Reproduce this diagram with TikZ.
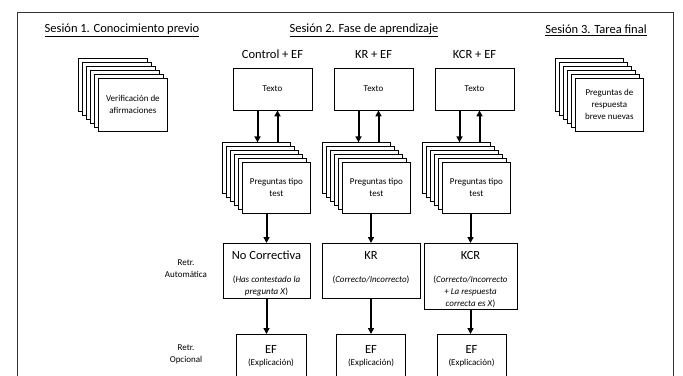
\documentclass[tikz,border=0pt]{standalone}
\usepackage{fontspec}
\setmainfont{Carlito}
\usetikzlibrary{arrows.meta,positioning,calc}

\newcommand{\grande}{\fontsize{12.5}{15}\selectfont}
\newcommand{\chica}{\fontsize{9}{12}\selectfont}

\begin{document}
\begin{tikzpicture}[x=1pt,y=-1pt,>={Triangle[length=6pt,width=6pt]},
  caja/.style={draw,line width=.75pt,fill=white,inner sep=0pt,align=center,font=\chica},
  capa/.style={draw,line width=.75pt,fill=white},
  flecha/.style={->,line width=2pt},
  txt/.style={inner sep=0pt,align=center,font=\chica},
  titulo/.style={inner sep=0pt,font=\grande}]
\useasboundingbox (0,0) rectangle (683,375);
\clip (0,0) rectangle (683,375);
% marco
\draw[line width=.8pt,black!80] (17,390) -- (17,12) -- (673,12) -- (673,390);

% sesiones
\node[titulo] (ses1) at (122,30) {\underline{Sesión 1. Conocimiento previo}};
\node[titulo] (ses2) at (364,30) {\underline{Sesión 2. Fase de aprendizaje}};
\node[titulo] (ses3) at (596,30) {\underline{Sesión 3. Tarea final}};

% pilas de hojas
\coordinate (p1) at (98,78);
\coordinate (p3) at (575,78);
\coordinate (pA) at (242,162);
\coordinate (pB) at (342,162);
\coordinate (pC) at (442,162);
\foreach \p/\w/\h in {p1/69/53,p3/68/53,pA/68/51,pB/68/51,pC/68/51}
  \foreach \k in {5,4,...,1}
    \draw[capa] ($(\p)-(4*\k,4*\k)$) rectangle ++(\w,\h);

\node[caja,anchor=north west,minimum width=69pt,minimum height=53pt] (ver) at (p1) {Verificación de\\afirmaciones};
\node[caja,anchor=north west,minimum width=68pt,minimum height=53pt] (nue) at (p3) {Preguntas de\\respuesta\\breve nuevas};

% texto
\node[caja,minimum width=79pt,minimum height=42pt] (tA) at (272.5,89) {Texto};
\node[caja,minimum width=79pt,minimum height=42pt] (tB) at (373.5,89) {Texto};
\node[caja,minimum width=79pt,minimum height=42pt] (tC) at (474.5,89) {Texto};
\node[titulo,above=9pt of tA] (gA) {Control + EF};
\node[titulo,above=9pt of tB] (gB) {KR + EF};
\node[titulo,above=9pt of tC] (gC) {KCR + EF};

% preguntas tipo test
\node[caja,anchor=north west,minimum width=68pt,minimum height=51pt] (qA) at (pA) {Preguntas tipo\\test};
\node[caja,anchor=north west,minimum width=68pt,minimum height=51pt] (qB) at (pB) {Preguntas tipo\\test};
\node[caja,anchor=north west,minimum width=68pt,minimum height=51pt] (qC) at (pC) {Preguntas tipo\\test};

\draw[flecha] (tA.south) ++(-15,0) -- ++(0,32);
\draw[flecha] (tA.south) ++(5,32) -- ++(0,-32);
\draw[flecha] (tB.south) ++(-15,0) -- ++(0,32);
\draw[flecha] (tB.south) ++(5,32) -- ++(0,-32);
\draw[flecha] (tC.south) ++(-15,0) -- ++(0,32);
\draw[flecha] (tC.south) ++(5,32) -- ++(0,-32);

% retroalimentacion automatica
\node[txt] (ra) at (186,269) {Retr.\\Automática};
\node[caja,anchor=north,minimum width=87pt,minimum height=55pt] (nc) at (266.5,243) {};
\node[txt,below=8pt of nc.north] (ncT) {{\grande No Correctiva}\\[11pt](\textit{Has contestado la}\\\textit{pregunta X})};
\node[caja,anchor=north,minimum width=98pt,minimum height=55pt] (kr) at (371,243) {};
\node[txt,below=8pt of kr.north] (krT) {{\grande KR}\\[11pt](\textit{Correcto/Incorrecto})};
\node[caja,anchor=north,minimum width=93pt,minimum height=66pt] (kcr) at (470.5,243) {};
\node[txt,below=8pt of kcr.north] (kcrT) {{\grande KCR}\\[11pt](\textit{Correcto/Incorrecto}\\\textit{+ La respuesta}\\\textit{correcta es X})};

\draw[flecha] (nc.north |- qA.south) -- (nc.north);
\draw[flecha] (kr.north |- qB.south) -- (kr.north);
\draw[flecha] (kcr.north |- qC.south) -- (kcr.north);

% retroalimentacion opcional
\node[txt] (ro) at (186,354) {Retr.\\Opcional};
\node[caja,anchor=north,minimum width=70pt,minimum height=48pt] (efA) at (271,334) {};
\node[caja,anchor=north,minimum width=69pt,minimum height=48pt] (efB) at (371,334) {};
\node[caja,anchor=north,minimum width=69pt,minimum height=48pt] (efC) at (471.5,334) {};
\node[txt,below=11pt of efA.north] (efAT) {{\grande EF}\\(Explicación)};
\node[txt,below=11pt of efB.north] (efBT) {{\grande EF}\\(Explicación)};
\node[txt,below=11pt of efC.north] (efCT) {{\grande EF}\\(Explicación)};

\draw[flecha] (nc.south) -- (nc.south |- efA.north);
\draw[flecha] (kr.south) -- (kr.south |- efB.north);
\draw[flecha] (kcr.south) -- (kcr.south |- efC.north);
\end{tikzpicture}
\end{document}
